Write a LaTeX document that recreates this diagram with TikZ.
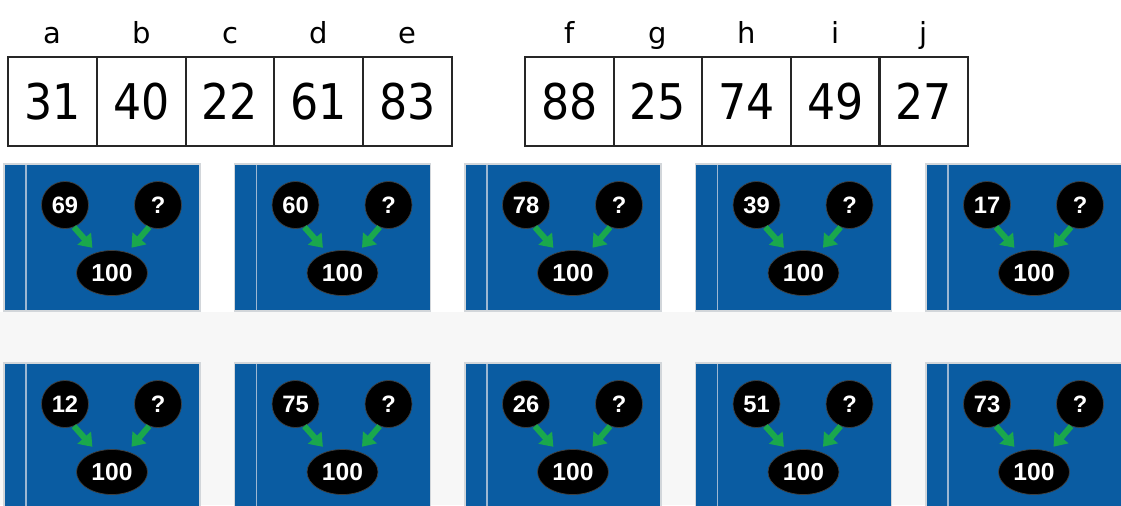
\documentclass[tikz,border=0pt]{standalone}
\usepackage{fontspec}
\setmainfont{Liberation Sans}
\newfontfamily\tablefont{DejaVu Sans Condensed}
\newfontfamily\headfont{DejaVu Sans}
\usetikzlibrary{arrows.meta,positioning,shapes.geometric}
\definecolor{slideblue}{HTML}{0A5CA2}
\definecolor{arrowgreen}{HTML}{1AA84C}
\definecolor{paleband}{HTML}{F7F7F7}
\definecolor{panelrim}{HTML}{D2D6DA}
\definecolor{striprule}{HTML}{9DB7D2}
\tikzset{
  cell/.style={draw=black!85,line width=1.1pt,minimum width=1.776cm,minimum height=1.78cm,
               inner sep=0pt,outer sep=0pt,font=\tablefont\fontsize{28}{28}\selectfont},
  colhead/.style={anchor=base,inner sep=0pt,font=\headfont\fontsize{16.5}{16.5}\selectfont},
  part/.style={circle,fill=black,draw=black!75,line width=0.4pt,minimum size=0.94cm,
               inner sep=0pt,text=white,font=\bfseries\fontsize{13.5}{13.5}\selectfont},
  whole/.style={ellipse,fill=black,draw=black!75,line width=0.4pt,minimum width=1.42cm,
               minimum height=0.9cm,inner sep=0pt,text=white,font=\bfseries\fontsize{14}{14}\selectfont},
  bond/.style={-{Triangle[width=10pt,length=7pt]},line width=3.4pt,draw=arrowgreen,
               shorten >=3.5pt},
}

\begin{document}
\begin{tikzpicture}[x=0.02cm,y=-0.02cm]
  \useasboundingbox (0,0) rectangle (1121,505);
  \clip (0,0) rectangle (1121,505);
  \fill[paleband] (0,312) rectangle (1121,505);

  % ---- value tables ----
  \foreach \l/\v [count=\k from 0] in {a/31,b/40,c/22,d/61,e/83}{
    \node[cell] (\l) at ({52.4+\k*88.8},101.5) {\v};
    \node[colhead] (h\l) at ({52.4+\k*88.8},43) {\l};
  }
  \foreach \l/\v [count=\k from 0] in {f/88,g/25,h/74,i/49,j/27}{
    \node[cell] (\l) at ({569.4+\k*88.6},101.5) {\v};
    \node[colhead] (h\l) at ({569.4+\k*88.6},43) {\l};
  }

  % ---- number bond slides ----
  \foreach \v [count=\k from 0] in {69,60,78,39,17,12,75,26,51,73}{
    \pgfmathsetmacro{\px}{4+mod(\k,5)*230.5}
    \pgfmathsetmacro{\py}{164+int(\k/5)*199}
    \begin{scope}[shift={(\px,\py)}]
      \fill[slideblue,draw=panelrim,line width=0.6pt] (0,0) rectangle (196,147);
      \draw[striprule,line width=0.8pt] (22,1) -- (22,146);
      \node[part] (l\k) at (61,41) {\v};
      \node[part] (r\k) at (154,41) {?};
      \node[whole] (s\k) at (108,109) {100};
      \draw[bond] (l\k.-68) -- (s\k.127);
      \draw[bond] (r\k.-112) -- (s\k.53);
    \end{scope}
  }
\end{tikzpicture}
\end{document}
